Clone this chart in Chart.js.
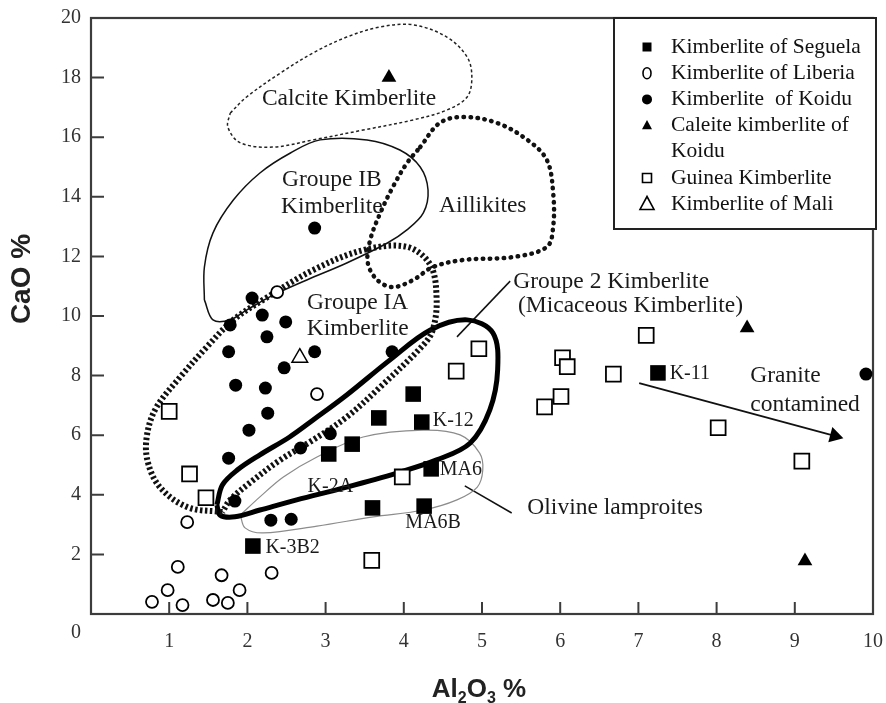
<!DOCTYPE html>
<html>
<head>
<meta charset="utf-8">
<script src="https://cdn.jsdelivr.net/npm/chart.js@4.4.1/dist/chart.umd.min.js"></script>
<style>
  html, body { margin: 0; padding: 0; background: #fff; }
  #wrap { width: 886px; height: 703px; }
</style>
</head>
<body>
<div id="wrap"><canvas id="chart" width="886" height="703"></canvas></div>
<script>
// Samples: [Al2O3 %, CaO %]
const seguela = [[4.12,7.38],[3.68,6.58],[4.23,6.44],[3.34,5.70],[3.04,5.37],[4.35,4.87],[3.60,3.56],[4.26,3.62],[2.07,2.28],[7.25,8.09]];
const liberia = [[1.23,3.08],[1.11,1.58],[0.98,0.80],[0.78,0.41],[1.17,0.30],[1.67,1.30],[1.56,0.47],[1.75,0.37],[1.90,0.80],[2.31,1.38],[2.89,7.38],[2.38,10.8]];
const koidu = [[2.06,10.6],[2.19,10.03],[2.49,9.8],[1.78,9.7],[2.25,9.3],[1.76,8.8],[2.86,8.8],[2.47,8.26],[1.85,7.68],[2.23,7.58],[2.26,6.74],[2.02,6.17],[1.76,5.23],[1.84,3.79],[2.30,3.15],[2.56,3.18],[2.86,12.95],[3.85,8.8],[3.06,6.05],[2.68,5.57],[9.91,8.05]];
const calciteKoidu = [[3.81,18.0],[8.39,9.6],[9.13,1.78]];
const guinea = [[1.0,6.8],[1.26,4.7],[1.47,3.9],[3.98,4.6],[3.59,1.8],[4.67,8.15],[4.96,8.9],[5.8,6.95],[6.01,7.3],[6.03,8.6],[6.09,8.3],[6.68,8.05],[7.1,9.35],[8.02,6.25],[9.09,5.13]];
const mali = [[2.67,8.6]];

// Field outlines (closed), in data units
const calciteField = [[1.78,16.81],[1.99,17.35],[2.42,18.15],[2.84,18.83],[3.27,19.36],[3.70,19.70],[4.12,19.77],[4.55,19.36],[4.81,18.69],[4.87,18.02],[4.81,17.35],[4.55,16.91],[4.12,16.58],[3.48,16.24],[2.84,15.91],[2.33,15.67],[1.91,15.81],[1.75,16.34]];
const group1bField = [[1.45,10.54],[1.45,11.64],[1.56,12.79],[1.82,13.89],[2.16,14.80],[2.55,15.47],[2.93,15.91],[3.53,15.91],[3.95,15.57],[4.21,15.00],[4.31,14.23],[4.25,13.46],[4.04,12.89],[3.79,12.45],[3.27,11.78],[2.76,11.21],[2.33,10.70],[1.99,10.20],[1.78,9.87],[1.56,9.87]];
const aillikiteField = [[4.21,15.67],[4.46,16.48],[4.76,16.68],[5.19,16.48],[5.58,15.91],[5.83,15.23],[5.91,14.13],[5.91,12.99],[5.83,12.32],[5.40,11.98],[4.76,11.88],[4.37,11.64],[4.12,11.21],[3.86,10.97],[3.66,11.21],[3.54,11.78],[3.57,12.55],[3.70,13.46],[3.86,14.33],[4.04,15.13]];
const group1aField = [[1.68,3.42],[1.23,3.59],[0.88,4.26],[0.72,5.17],[0.72,6.07],[0.84,6.95],[1.14,7.95],[1.48,8.96],[1.82,9.87],[2.20,10.54],[2.84,11.54],[3.48,12.21],[4.04,12.32],[4.34,11.71],[4.42,10.54],[4.37,9.53],[4.25,9.03],[3.70,7.62],[3.27,6.61],[2.84,5.84],[2.42,5.17],[2.03,4.40],[1.78,3.83]];
const group2Field = [[1.61,3.66],[1.68,4.33],[1.87,4.83],[2.16,5.34],[2.54,5.94],[2.84,6.51],[3.27,7.35],[3.82,8.52],[4.34,9.53],[4.81,9.87],[5.14,9.43],[5.20,8.19],[5.10,6.85],[4.85,5.74],[4.42,5.17],[3.91,4.73],[3.27,4.26],[2.63,3.83],[2.16,3.49],[1.84,3.26],[1.65,3.32]];
const olivineField = [[1.91,3.32],[2.16,3.93],[2.46,4.60],[2.89,5.27],[3.48,5.94],[4.25,6.17],[4.72,6.01],[4.97,5.40],[5.01,4.83],[4.94,4.26],[4.68,3.83],[4.25,3.49],[3.61,3.26],[2.89,2.95],[2.20,2.72],[1.97,2.89]];

// Leader lines and the granite arrow
const group2Leader = [[5.36,11.17],[4.68,9.30]];
const olivineLeader = [[5.38,3.39],[4.78,4.30]];
const graniteArrow = [[7.01,7.75],[9.51,5.98]];

// Text placed in data units: [text, x, y, align]
const fieldLabels = [
  ['Calcite Kimberlite', 3.30, 17.28, 'center'],
  ['Groupe IB', 3.08, 14.56, 'center'],
  ['Kimberlite', 3.08, 13.66, 'center'],
  ['Aillikites', 5.01, 13.69, 'center'],
  ['Groupe IA', 3.41, 10.44, 'center'],
  ['Kimberlite', 3.41, 9.56, 'center'],
  ['Groupe 2 Kimberlite', 5.40, 11.14, 'left'],
  ['(Micaceous Kimberlite)', 5.46, 10.34, 'left'],
  ['Olivine lamproites', 5.58, 3.56, 'left'],
  ['Granite', 8.43, 7.99, 'left'],
  ['contamined', 8.43, 7.01, 'left']
];
const sampleLabels = [
  ['K-11', 7.40, 8.05], ['K-12', 4.37, 6.48], ['MA6', 4.46, 4.83],
  ['MA6B', 4.02, 3.05], ['K-3B2', 2.23, 2.21], ['K-2A', 2.77, 4.26]
];

const xTicks = [0,1,2,3,4,5,6,7,8,9,10];
const yTicks = [0,2,4,6,8,10,12,14,16,18,20];

const SERIF = "'Liberation Serif', 'Times New Roman', serif";
const SANS = "'Liberation Sans', Arial, sans-serif";

const pts = a => a.map(([x, y]) => ({x, y}));
const loop = a => pts(a.concat([a[0]]));

function outline(data, opts) {
  return Object.assign({
    data: data, showLine: true, pointRadius: 0, pointHoverRadius: 0,
    borderColor: '#111', borderWidth: 1.5, tension: 0.35, fill: false, order: 5
  }, opts);
}

function drawMark(ctx, style, filled, x, y, r) {
  ctx.beginPath();
  if (style === 'rect') ctx.rect(x - r, y - r, 2 * r, 2 * r);
  else if (style === 'circle') ctx.ellipse(x, y, filled ? r : r * 0.8, filled ? r : r * 1.1, 0, 0, Math.PI * 2);
  else { ctx.moveTo(x, y - r * 1.1); ctx.lineTo(x + r, y + r * 0.75); ctx.lineTo(x - r, y + r * 0.75); ctx.closePath(); }
  if (filled) { ctx.fillStyle = '#000'; ctx.fill(); }
  else { ctx.fillStyle = '#fff'; ctx.fill(); ctx.lineWidth = 1.6; ctx.strokeStyle = '#000'; ctx.stroke(); }
}

const decor = {
  id: 'decor',
  beforeDraw(chart) {
    const ctx = chart.ctx;
    ctx.save(); ctx.fillStyle = '#fff'; ctx.fillRect(0, 0, chart.width, chart.height); ctx.restore();
  },
  beforeDatasetsDraw(chart) {
    const ctx = chart.ctx, a = chart.chartArea, xs = chart.scales.x, ys = chart.scales.y;
    ctx.save();
    ctx.strokeStyle = '#3c3c3c';
    ctx.lineWidth = 2.2;
    ctx.strokeRect(a.left, a.top, a.right - a.left, a.bottom - a.top);
    ctx.lineWidth = 2;
    ctx.beginPath();
    yTicks.slice(1, -1).forEach(v => { const y = ys.getPixelForValue(v); ctx.moveTo(a.left, y); ctx.lineTo(a.left + 13, y); });
    xTicks.slice(1, -1).forEach(v => { const x = xs.getPixelForValue(v); ctx.moveTo(x, a.bottom); ctx.lineTo(x, a.bottom - 12); });
    ctx.stroke();
    ctx.restore();
  },
  afterDatasetsDraw(chart) {
    const ctx = chart.ctx, xs = chart.scales.x, ys = chart.scales.y;
    ctx.save();
    ctx.fillStyle = '#1a1a1a';
    ctx.textBaseline = 'middle';
    ctx.font = '23.5px ' + SERIF;
    fieldLabels.forEach(([t, x, y, al]) => { ctx.textAlign = al; ctx.fillText(t, xs.getPixelForValue(x), ys.getPixelForValue(y)); });
    ctx.font = '20px ' + SERIF;
    ctx.textAlign = 'left';
    sampleLabels.forEach(([t, x, y]) => ctx.fillText(t, xs.getPixelForValue(x), ys.getPixelForValue(y)));
    ctx.restore();
  },
  afterDraw(chart) {
    const ctx = chart.ctx, a = chart.chartArea, xs = chart.scales.x, ys = chart.scales.y;
    ctx.save();
    // shared origin label
    ctx.fillStyle = '#333';
    ctx.font = '20px ' + SERIF;
    ctx.textAlign = 'center'; ctx.textBaseline = 'middle';
    ctx.fillText('0', xs.getPixelForValue(0) - 15, ys.getPixelForValue(0) + 19);

    // axis titles
    ctx.fillStyle = '#222';
    ctx.font = 'bold 28px ' + SANS;
    ctx.save();
    ctx.translate(22, 279);
    ctx.rotate(-Math.PI / 2);
    ctx.fillText('CaO %', 0, 0);
    ctx.restore();
    const parts = [['Al', 26, 0], ['2', 16, 6], ['O', 26, 0], ['3', 16, 6], [' %', 26, 0]];
    let total = 0;
    parts.forEach(p => { ctx.font = 'bold ' + p[1] + 'px ' + SANS; total += ctx.measureText(p[0]).width; });
    let cx = 479 - total / 2;
    ctx.textAlign = 'left'; ctx.textBaseline = 'alphabetic';
    parts.forEach(p => { ctx.font = 'bold ' + p[1] + 'px ' + SANS; ctx.fillText(p[0], cx, 697 + p[2]); cx += ctx.measureText(p[0]).width; });

    // legend box
    const bx = a.right - 259, by = a.top, bw = 262, bh = 211;
    ctx.fillStyle = '#fff';
    ctx.fillRect(bx, by, bw, bh);
    ctx.strokeStyle = '#222'; ctx.lineWidth = 2;
    ctx.strokeRect(bx, by, bw, bh);
    ctx.font = '21.5px ' + SERIF;
    ctx.textBaseline = 'middle';
    let row = 0;
    chart.data.datasets.filter(d => d.legendSize).forEach(d => {
      const y = by + 29 + row * 26.2;
      drawMark(ctx, d.pointStyle, d.pointBackgroundColor === '#000', bx + 33, y, d.legendSize);
      ctx.fillStyle = '#111';
      const lines = Array.isArray(d.label) ? d.label : [d.label];
      lines.forEach((t, i) => ctx.fillText(t, bx + 57, y + i * 26.2));
      row += lines.length;
    });
    ctx.restore();
  }
};

new Chart(document.getElementById('chart'), {
  type: 'scatter',
  data: {
    datasets: [
      outline(loop(calciteField), { borderWidth: 1.5, borderDash: [3, 2.5], borderColor: '#222' }),
      outline(loop(group1bField), { borderWidth: 1.5 }),
      outline(loop(aillikiteField), { borderWidth: 4.5, borderDash: [0.5, 6.5], borderCapStyle: 'round' }),
      outline(loop(group1aField), { borderWidth: 6, borderDash: [2.5, 2.5] }),
      outline(loop(group2Field), { borderWidth: 5, borderColor: '#000' }),
      outline(loop(olivineField), { borderWidth: 1.2, borderColor: '#8c8c8c' }),
      outline(pts(group2Leader), { borderWidth: 1.5, tension: 0 }),
      outline(pts(olivineLeader), { borderWidth: 1.5, tension: 0 }),
      outline(pts(graniteArrow), { borderWidth: 1.8, tension: 0 }),
      { data: pts(graniteArrow.slice(1)), pointStyle: 'triangle', pointRotation: 105, pointRadius: 9,
        pointBackgroundColor: '#000', pointBorderColor: '#000', pointBorderWidth: 0, order: 2 },
      { label: 'Kimberlite of Seguela', data: pts(seguela), pointStyle: 'rect', pointRadius: 11,
        pointBackgroundColor: '#000', pointBorderColor: '#000', pointBorderWidth: 0, order: 1, legendSize: 4.5 },
      { label: 'Kimberlite of Liberia', data: pts(liberia), pointStyle: 'circle', pointRadius: 6,
        pointBackgroundColor: '#fff', pointBorderColor: '#000', pointBorderWidth: 1.8, order: 1, legendSize: 5 },
      { label: 'Kimberlite  of Koidu', data: pts(koidu), pointStyle: 'circle', pointRadius: 6.5,
        pointBackgroundColor: '#000', pointBorderColor: '#000', pointBorderWidth: 0, order: 1, legendSize: 5 },
      { label: ['Caleite kimberlite of', 'Koidu'], data: pts(calciteKoidu), pointStyle: 'triangle', pointRadius: 8.5,
        pointBackgroundColor: '#000', pointBorderColor: '#000', pointBorderWidth: 0, order: 1, legendSize: 5 },
      { label: 'Guinea Kimberlite', data: pts(guinea), pointStyle: 'rect', pointRadius: 10.5,
        pointBackgroundColor: '#fff', pointBorderColor: '#000', pointBorderWidth: 1.8, order: 1, legendSize: 4.5 },
      { label: 'Kimberlite of Mali', data: pts(mali), pointStyle: 'triangle', pointRadius: 9,
        pointBackgroundColor: '#fff', pointBorderColor: '#000', pointBorderWidth: 1.5, order: 1, legendSize: 7 }
    ]
  },
  options: {
    responsive: false,
    animation: false,
    layout: { padding: { left: 0, right: 13, top: 18, bottom: 0 } },
    plugins: { legend: { display: false }, tooltip: { enabled: false } },
    scales: {
      x: {
        type: 'linear', min: 0, max: 10,
        afterFit: s => { s.height = 89; s.paddingLeft = 0; s.paddingRight = 0; },
        grid: { display: false, drawTicks: false }, border: { display: false },
        afterBuildTicks: s => { s.ticks = xTicks.map(v => ({ value: v })); },
        ticks: { padding: 16, color: '#333', autoSkip: false, maxRotation: 0,
          font: { family: SERIF, size: 20 }, callback: v => v === 0 ? '' : String(v) }
      },
      y: {
        type: 'linear', min: 0, max: 20,
        afterFit: s => { s.width = 91; s.paddingTop = 0; s.paddingBottom = 0; },
        grid: { display: false, drawTicks: false }, border: { display: false },
        afterBuildTicks: s => { s.ticks = yTicks.map(v => ({ value: v })); },
        ticks: { padding: 10, color: '#333', autoSkip: false,
          font: { family: SERIF, size: 20 }, callback: v => v === 0 ? '' : String(v) }
      }
    }
  },
  plugins: [decor]
});
</script>
</body>
</html>
